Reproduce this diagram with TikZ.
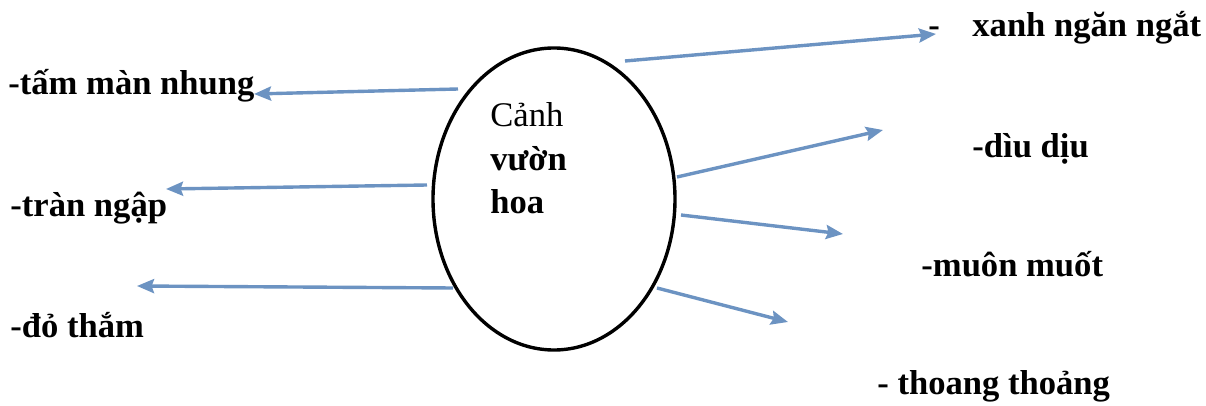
\documentclass[tikz,border=0pt]{standalone}
\usepackage{fontspec}
\setmainfont{Liberation Serif}
\usetikzlibrary{arrows.meta,shapes.geometric}
\definecolor{arrowblue}{RGB}{108,147,194}
\begin{document}
\begin{tikzpicture}[x=0.5pt,y=-0.5pt,
  link/.style={draw=arrowblue,line width=1.7pt,
    -{Stealth[length=8.5pt,width=7pt,inset=1.2pt]}},
  word/.style={anchor=base west,inner sep=0pt,
    font=\fontsize{17.3}{20}\selectfont\bfseries},
  centre/.style={anchor=base west,inner sep=0pt,
    font=\fontsize{17.3}{20}\selectfont}]
\useasboundingbox (0,0) rectangle (1206,406);

% central ellipse and its caption
\node[draw,ellipse,line width=1.7pt,minimum width=121pt,minimum height=151pt,
  inner sep=0pt] (garden) at (554,199) {};
\node[centre] (t1) at (490,127) {Cảnh};
\node[centre,font=\fontsize{17.3}{20}\selectfont\bfseries] (t2) at (490,171) {vườn};
\node[centre,font=\fontsize{17.3}{20}\selectfont\bfseries] (t3) at (490,214) {hoa};

% labels on the left
\node[word] (w1) at (8,95) {-tấm màn nhung};
\node[word] (w2) at (10,217) {-tràn ngập};
\node[word] (w3) at (10,338) {-đỏ thắm};

% labels on the right
\node[word] (dash) at (928,37) {-};
\node[word] (r1) at (972,37) {xanh ngăn ngắt};
\node[word] (r2) at (972,158) {-dìu dịu};
\node[word] (r3) at (921,277) {-muôn muốt};
\node[word] (r4) at (877,394) {- thoang thoảng};

% arrow start points on the ellipse
\coordinate (s1) at (625,61);
\coordinate (s2) at (458,89);
\coordinate (s3) at (427,185);
\coordinate (s4) at (453,288);
\coordinate (s5) at (677,177);
\coordinate (s6) at (681,215);
\coordinate (s7) at (657,288);

% arrow tips
\coordinate (e1) at (936,34);
\coordinate (e2) at (254,94);
\coordinate (e3) at (166,189);
\coordinate (e4) at (137,286);
\coordinate (e5) at (883,130);
\coordinate (e6) at (843,234);
\coordinate (e7) at (788,322);

\foreach \i in {1,...,7} \draw[link] (s\i) -- (e\i);
\end{tikzpicture}
\end{document}
